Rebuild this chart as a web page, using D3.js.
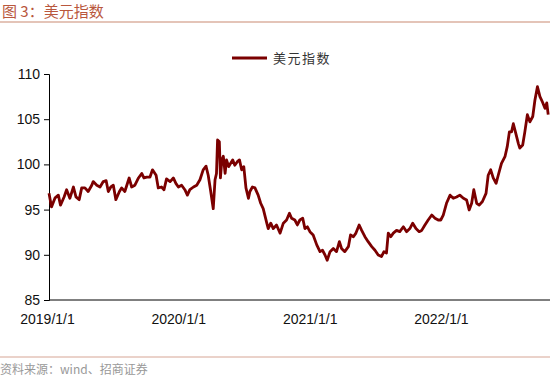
<!DOCTYPE html>
<html>
<head>
<meta charset="utf-8">
<script src="https://d3js.org/d3.v7.min.js"></script>
<style>
  body { margin: 0; background: #fff; }
  svg text { font-family: "Liberation Sans", Arial, sans-serif; }
</style>
</head>
<body>
<div id="chart"></div>
<script>
// chart texts
var title = "图 3：美元指数";
var seriesName = "美元指数";
var source = "资料来源：wind、招商证券";

// y ticks and x tick dates
var yTicks = [85, 90, 95, 100, 105, 110];
var xTickDates = ["2019-01-01", "2020-01-01", "2021-01-01", "2022-01-01"];

// days counted from 2019-01-01
var dayOffsets = [0, 7, 17, 26, 32, 42, 49, 58, 68, 75, 84, 91, 100, 109, 119, 123, 133, 142, 151, 159,
  165, 172, 179, 186, 196, 202, 211, 223, 230, 239, 249, 258, 264, 272, 281, 288, 298, 304, 313, 320,
  327, 337, 346, 353, 360, 369, 378, 385, 392, 402, 411, 420, 429, 437, 443, 450, 457, 462, 466, 469,
  474, 477, 481, 485, 490, 494, 500, 505, 511, 517, 524, 530, 536, 542, 548, 555, 559, 566, 573, 582,
  589, 596, 606, 610, 617, 624, 633, 643, 652, 661, 669, 675, 684, 691, 698, 706, 712, 719, 726, 735,
  745, 754, 761, 768, 774, 782, 791, 800, 808, 814, 823, 833, 839, 847, 854, 863, 870, 879, 888, 898,
  907, 916, 925, 932, 939, 944, 951, 958, 967, 976, 986, 995, 1004, 1012, 1021, 1030, 1037, 1046, 1055, 1065,
  1074, 1083, 1090, 1097, 1106, 1116, 1125, 1134, 1143, 1153, 1162, 1169, 1176, 1182, 1190, 1197, 1206, 1216, 1222, 1229,
  1236, 1244, 1250, 1259, 1269, 1275, 1281, 1287, 1292, 1299, 1306, 1310, 1318, 1324, 1331, 1338, 1346, 1352, 1359, 1366,
  1373, 1380, 1385, 1389];

// dollar index values
var dxy = [96.8, 95.3, 96.3, 96.6, 95.5, 96.4, 97.2, 96.25, 97.5, 96.4, 96.1, 97.4, 97.4, 97.0, 97.7, 98.1, 97.7, 97.5, 98.1, 98.2,
  97.0, 97.5, 97.7, 96.1, 97.0, 97.4, 97.0, 98.5, 97.5, 97.7, 98.5, 99.0, 98.5, 98.6, 98.6, 99.4, 98.8, 97.4, 97.5, 97.2,
  98.4, 98.1, 98.5, 97.9, 97.5, 97.7, 97.2, 96.6, 97.2, 97.5, 97.7, 98.3, 99.4, 99.8, 98.8, 97.0, 95.1, 98.3, 99.0, 102.7,
  102.5, 98.5, 100.5, 100.9, 99.0, 100.5, 99.75, 100.1, 100.5, 99.9, 100.3, 100.5, 99.4, 99.75, 97.4, 96.25, 97.0, 97.5, 97.4, 96.6,
  95.7, 95.1, 93.5, 92.9, 93.5, 92.9, 93.3, 92.4, 93.5, 93.85, 94.6, 94.05, 93.85, 93.3, 93.85, 94.05, 92.9, 93.1, 92.56, 92.2,
  91.1, 90.35, 90.5, 89.98, 89.4, 90.35, 90.7, 90.35, 91.45, 90.7, 90.35, 90.9, 92.2, 92.0, 92.4, 93.3, 92.7, 92.0, 91.45, 90.9,
  90.5, 89.98, 89.8, 90.35, 90.2, 92.4, 92.0, 92.4, 92.7, 92.56, 93.1, 92.56, 92.9, 93.5, 92.9, 92.56, 92.7, 93.3, 93.85, 94.4,
  94.05, 93.85, 93.85, 94.4, 95.7, 96.6, 96.25, 96.4, 96.6, 96.25, 96.06, 94.96, 95.7, 97.2, 95.7, 95.5, 95.9, 96.8, 98.8, 99.4,
  98.5, 97.9, 98.8, 100.1, 100.9, 101.96, 103.6, 103.6, 104.5, 103.4, 102.3, 101.8, 102.15, 103.6, 105.5, 104.7, 105.3, 107.1, 108.6, 107.5,
  106.9, 106.2, 106.8, 105.5];

var width = 550,
    height = 387;

var startDate = new Date(2019, 0, 1);
var endDate = d3.timeDay.offset(startDate, 1394);
var parseDate = d3.timeParse("%Y-%m-%d");
var fmt = d3.timeFormat("%Y/%-m/%-d");

var data = dayOffsets.map(function (d, i) {
  return { date: d3.timeDay.offset(startDate, d), value: dxy[i] };
});

var svg = d3.select("#chart")
  .append("svg")
    .attr("width", width)
    .attr("height", height);

var x = d3.scaleTime().domain([startDate, endDate]).range([49, 550]);
var y = d3.scaleLinear().domain([85, 110]).range([300, 74]);

// title + rule
svg.append("text")
  .attr("x", 2).attr("y", 17)
  .style("font-family", "'Noto Sans CJK SC', sans-serif")
  .style("font-size", "15px")
  .style("fill", "#b9573d")
  .text(title);
svg.append("line")
  .attr("x1", 0).attr("x2", width).attr("y1", 22).attr("y2", 22)
  .style("stroke", "#c98a72").style("stroke-width", 1.2);

// y axis
var yAxis = svg.append("g")
  .attr("transform", "translate(49,0)")
  .call(d3.axisLeft(y).tickValues(yTicks).tickSize(5).tickPadding(4));
yAxis.selectAll("text").style("font-size", "14px").style("fill", "#111");
yAxis.selectAll("line, path").style("stroke", "#000");

// x axis
var xAxis = svg.append("g")
  .attr("transform", "translate(0,300)")
  .call(d3.axisBottom(x).tickValues(xTickDates.map(parseDate)).tickFormat(fmt).tickSize(0).tickPadding(14));
xAxis.select(".domain").attr("d", "M49,0H550").style("stroke", "#000");
xAxis.selectAll("text").attr("dx", -2).style("font-size", "14px").style("fill", "#111");

// line
var line = d3.line()
  .x(function (d) { return x(d.date); })
  .y(function (d) { return y(d.value); });

svg.append("path")
  .datum(data)
  .attr("d", line)
  .style("fill", "none")
  .style("stroke", "#7b0000")
  .style("stroke-width", 2.8)
  .style("stroke-linejoin", "round");

// legend
svg.append("line")
  .attr("x1", 232).attr("x2", 267).attr("y1", 58).attr("y2", 58)
  .style("stroke", "#7b0000").style("stroke-width", 3);
svg.append("text")
  .attr("x", 273).attr("y", 63)
  .style("font-family", "'Noto Sans CJK SC', sans-serif")
  .style("font-size", "13px")
  .style("letter-spacing", "1.5px")
  .style("fill", "#333")
  .text(seriesName);

// footer
svg.append("line")
  .attr("x1", 0).attr("x2", width).attr("y1", 357).attr("y2", 357)
  .style("stroke", "#d6a595").style("stroke-width", 1);
svg.append("text")
  .attr("x", 0).attr("y", 374)
  .style("font-family", "'Noto Sans CJK SC', sans-serif")
  .style("font-size", "12px")
  .style("fill", "#999")
  .text(source);
</script>
</body>
</html>
